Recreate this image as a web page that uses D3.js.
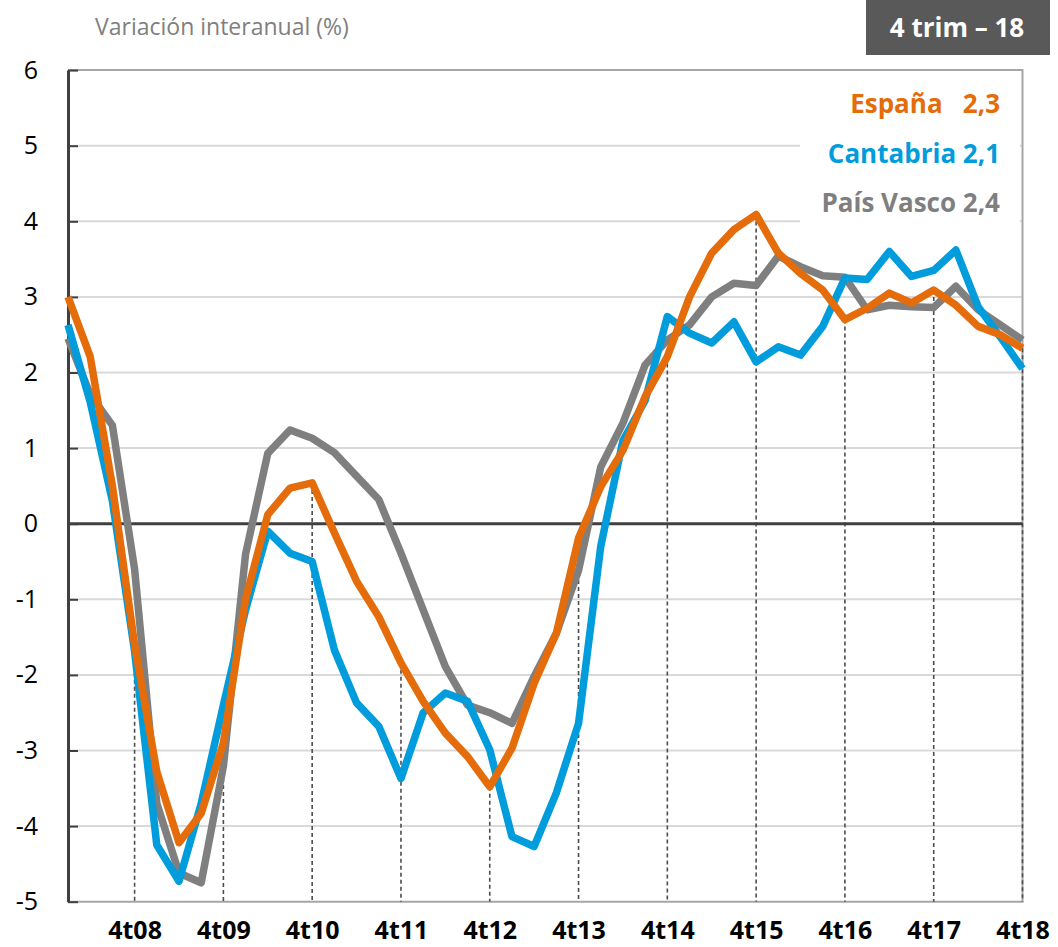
<!DOCTYPE html>
<html>
<head>
<meta charset="utf-8">
<script src="https://cdn.jsdelivr.net/npm/d3@7"></script>
<style>
  body { margin: 0; background: #fff; }
  svg { display: block; }
</style>
</head>
<body>
<div id="chart"></div>
<script>
// years shown on the x axis (one label per 4th quarter)
var years = ["08", "09", "10", "11", "12", "13", "14", "15", "16", "17", "18"];
var tickLabels = ["4t08", "4t09", "4t10", "4t11", "4t12", "4t13", "4t14", "4t15", "4t16", "4t17", "4t18"];
var yTicks = [6, 5, 4, 3, 2, 1, 0, -1, -2, -3, -4, -5];

// variacion interanual (%), 1t08 .. 4t18
var espana = [3.0, 2.21, 0.5, -1.6, -3.28, -4.22, -3.83, -2.9, -1.0, 0.12, 0.47, 0.54,
  -0.12, -0.76, -1.23, -1.84, -2.35, -2.77, -3.08, -3.48, -2.97, -2.11, -1.45, -0.19,
  0.49, 0.97, 1.68, 2.21, 3.0, 3.58, 3.89, 4.09, 3.58, 3.31, 3.09, 2.7,
  2.85, 3.05, 2.92, 3.09, 2.89, 2.61, 2.5, 2.32];
var cantabria = [2.63, 1.61, 0.3, -1.69, -4.25, -4.73, -3.7, -2.4, -1.14, -0.1, -0.39, -0.5,
  -1.67, -2.37, -2.68, -3.37, -2.5, -2.24, -2.35, -2.99, -4.14, -4.27, -3.56, -2.64,
  -0.3, 1.1, 1.63, 2.74, 2.52, 2.39, 2.67, 2.14, 2.34, 2.23, 2.61, 3.25,
  3.23, 3.6, 3.27, 3.35, 3.62, 2.87, 2.47, 2.05];
var paisVasco = [2.45, 1.71, 1.3, -0.6, -3.7, -4.62, -4.75, -3.21, -0.4, 0.93, 1.24, 1.13,
  0.94, 0.63, 0.32, -0.39, -1.14, -1.89, -2.4, -2.5, -2.64, -2.02, -1.45, -0.62,
  0.75, 1.33, 2.1, 2.43, 2.63, 3.0, 3.18, 3.15, 3.54, 3.4, 3.28, 3.26,
  2.83, 2.89, 2.87, 2.86, 3.14, 2.83, 2.63, 2.43];

var seriesNames = ["País Vasco", "Cantabria", "España"];
var seriesLast = ["2,4", "2,1", "2,3"];
var seriesColors = ["#7f7f7f", "#009cdb", "#e46c0a"];

// build quarter codes 1t08 .. 4t18
var quarters = [];
years.forEach(function(yy) {
	for (var q = 1; q <= 4; q++) quarters.push(q + "t" + yy);
});

var W = 1058, H = 947;
var svg = d3.select("#chart").append("svg")
	.attr("width", W)
	.attr("height", H);

var x = d3.scalePoint().domain(quarters).range([68, 1022.5]),
	y = d3.scaleLinear().domain([-5, 6]).range([901.7, 70.1]);

var font = "'Open Sans', 'DejaVu Sans', sans-serif";

// header
svg.append("text")
	.attr("x", 95)
	.attr("y", 35)
	.attr("fill", "#7f7f7f")
	.style("font-family", font)
	.style("font-size", "23px")
	.text("Variación interanual (%)");

svg.append("rect")
	.attr("x", 866).attr("y", 0)
	.attr("width", 184).attr("height", 55)
	.attr("fill", "#595959");
svg.append("text")
	.attr("x", 957)
	.attr("y", 37)
	.attr("text-anchor", "middle")
	.attr("fill", "#fff")
	.style("font-family", font)
	.style("font-size", "26px")
	.style("font-weight", "bold")
	.text("4 trim – 18");

// gridlines
svg.append("g")
	.selectAll("line")
	.data(yTicks.filter(function(d) { return d != 0 && d != -5 && d != 6; }))
	.enter().append("line")
	.attr("x1", x.range()[0]).attr("x2", x.range()[1])
	.attr("y1", function(d) { return y(d); })
	.attr("y2", function(d) { return y(d); })
	.attr("stroke", "#d9d9d9")
	.attr("stroke-width", 2);

// plot border top / right / bottom
svg.append("path")
	.attr("d", "M" + x.range()[0] + "," + y(6) + "H" + x.range()[1] + "V" + y(-5) + "H" + x.range()[0])
	.attr("fill", "none")
	.attr("stroke", "#a6a6a6")
	.attr("stroke-width", 2);

// white box behind the legend
svg.append("rect")
	.attr("x", 800).attr("y", 82)
	.attr("width", 220).attr("height", 144)
	.attr("fill", "#fff");

// drop lines from España at each 4th quarter
var dropData = tickLabels.map(function(t) { return { q: t, v: espana[quarters.indexOf(t)] }; });
svg.append("g")
	.selectAll("line")
	.data(dropData)
	.enter().append("line")
	.attr("x1", function(d) { return x(d.q); })
	.attr("x2", function(d) { return x(d.q); })
	.attr("y1", function(d) { return y(d.v); })
	.attr("y2", y(-5))
	.attr("stroke", "#4d4d4d")
	.attr("stroke-width", 1.6)
	.attr("stroke-dasharray", "4,3");

// zero line
svg.append("line")
	.attr("x1", x.range()[0]).attr("x2", x.range()[1])
	.attr("y1", y(0)).attr("y2", y(0))
	.attr("stroke", "#404040")
	.attr("stroke-width", 3);

// left axis
var yAxis = svg.append("g")
	.attr("transform", "translate(" + x.range()[0] + ",0)")
	.call(d3.axisLeft(y).tickValues(yTicks).tickSize(0).tickPadding(30).tickFormat(function(d) { return String(d); }));
yAxis.select(".domain").attr("stroke", "#404040").attr("stroke-width", 3);
yAxis.selectAll(".tick text")
	.attr("fill", "#000")
	.attr("text-anchor", "end")
	.attr("x", -30)
	.style("font-family", font)
	.style("font-size", "25px");
yAxis.selectAll(".tick").append("line")
	.attr("x1", 0).attr("x2", 10)
	.attr("stroke", "#404040")
	.attr("stroke-width", 2);

// bottom labels
var xAxis = svg.append("g")
	.attr("transform", "translate(0," + y(-5) + ")")
	.call(d3.axisBottom(x).tickValues(tickLabels).tickSize(0).tickPadding(20));
xAxis.select(".domain").remove();
xAxis.selectAll(".tick text")
	.attr("fill", "#000")
	.style("font-family", font)
	.style("font-size", "25px")
	.style("font-weight", "bold");

// series lines
var line = d3.line()
	.x(function(d, i) { return x(quarters[i]); })
	.y(function(d) { return y(d); });

var seriesData = [paisVasco, cantabria, espana];
svg.append("g")
	.selectAll("path")
	.data(seriesData)
	.enter().append("path")
	.attr("d", line)
	.attr("fill", "none")
	.attr("stroke", function(d, i) { return seriesColors[i]; })
	.attr("stroke-width", 7.5)
	.attr("stroke-linejoin", "round");

// legend, right aligned
var legendY = [212, 163, 113];
svg.append("g")
	.selectAll("text")
	.data(seriesNames)
	.enter().append("text")
	.attr("x", 1000)
	.attr("y", function(d, i) { return legendY[i]; })
	.attr("text-anchor", "end")
	.attr("fill", function(d, i) { return seriesColors[i]; })
	.style("font-family", font)
	.style("font-size", "26px")
	.style("font-weight", "bold")
	.style("white-space", "pre")
	.text(function(d, i) { return d + (d == "España" ? "   " : " ") + seriesLast[i]; });
</script>
</body>
</html>
